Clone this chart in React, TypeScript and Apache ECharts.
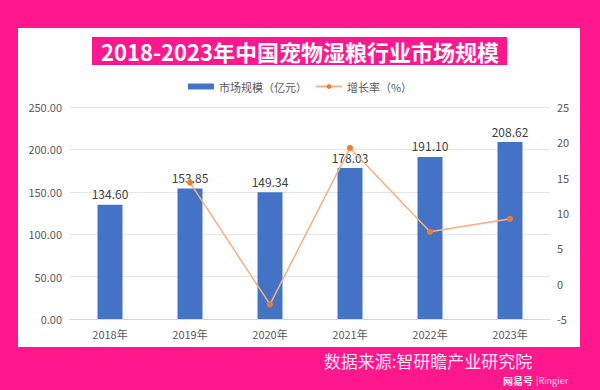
import React, { useEffect, useRef } from "react";
import * as echarts from "echarts";

const categories = ["2018年", "2019年", "2020年", "2021年", "2022年", "2023年"];
const marketSize = [134.6, 153.85, 149.34, 178.03, 191.1, 208.62];
const growthRate = [null, 14.3, -2.93, 19.21, 7.34, 9.17];
const leftTicks = { min: 0, max: 250, interval: 50 };
const rightTicks = { min: -5, max: 25, interval: 5 };

const PINK = "#FF178E";
const FONT = "'Noto Sans CJK SC', 'Noto Sans', sans-serif";

export default function App() {
  const ref = useRef<HTMLDivElement>(null);
  useEffect(() => {
    document.body.style.margin = "0";
    const chart = echarts.init(ref.current!, null, { renderer: "svg" });
    chart.setOption({
      animation: false,
      backgroundColor: PINK,
      textStyle: { fontFamily: FONT },
      graphic: [
        { type: "rect", shape: { x: 18, y: 28, width: 562, height: 319 }, style: { fill: "#fff" }, z: -10 },
        { type: "rect", shape: { x: 92, y: 37, width: 415, height: 28 }, style: { fill: PINK }, z: -5 },
        {
          type: "text", x: 300, y: 51,
          style: { text: "2018-2023年中国宠物湿粮行业市场规模", fill: "#fff", fontSize: 22, fontWeight: "bold", fontFamily: FONT, align: "center", verticalAlign: "middle" },
        },
        {
          type: "text", x: 428, y: 360,
          style: { text: "数据来源:智研瞻产业研究院", fill: "#fff", fontSize: 17, fontFamily: FONT, align: "center", verticalAlign: "middle", opacity: 0.9 },
        },
        {
          type: "text", x: 503, y: 380,
          style: { text: "网易号", fill: "#fff", fontSize: 10, fontWeight: "bold", fontFamily: FONT, align: "left", verticalAlign: "middle", opacity: 0.9 },
        },
        {
          type: "text", x: 536, y: 380,
          style: { text: "|Ringier", fill: "#fff", fontSize: 9, fontFamily: FONT, align: "left", verticalAlign: "middle", opacity: 0.85 },
        },
      ],
      legend: {
        top: 76,
        left: "center",
        itemGap: 8,
        itemWidth: 26,
        itemHeight: 6,
        textStyle: { color: "#595959", fontSize: 11, fontFamily: FONT },
        data: [
          { name: "市场规模（亿元）", icon: "rect" },
          { name: "增长率（%）" },
        ],
      },
      grid: { left: 70, right: 50, top: 107, bottom: 71 },
      xAxis: {
        type: "category",
        data: categories,
        axisLine: { lineStyle: { color: "#D9D9D9" } },
        axisTick: { show: false },
        axisLabel: { color: "#595959", fontSize: 11, margin: 9 },
      },
      yAxis: [
        {
          type: "value",
          ...leftTicks,
          axisLabel: { color: "#595959", fontSize: 11, formatter: (v: number) => v.toFixed(2), margin: 8 },
          splitLine: { lineStyle: { color: "#E6E6E6" } },
          axisLine: { show: false },
          axisTick: { show: false },
        },
        {
          type: "value",
          ...rightTicks,
          axisLabel: { color: "#595959", fontSize: 11, margin: 7 },
          splitLine: { show: false },
          axisLine: { show: false },
          axisTick: { show: false },
        },
      ],
      series: [
        {
          name: "市场规模（亿元）",
          type: "bar",
          data: marketSize,
          barWidth: 25,
          itemStyle: { color: "#4472C4" },
          label: {
            show: true, position: "top", color: "#404040", fontSize: 12, distance: 5,
            formatter: (p: any) => Number(p.value).toFixed(2),
          },
        },
        {
          name: "增长率（%）",
          type: "line",
          yAxisIndex: 1,
          data: growthRate,
          symbol: "circle",
          symbolSize: 6,
          connectNulls: false,
          lineStyle: { color: "#F4B183", width: 1.5 },
          itemStyle: { color: "#ED7D31" },
          z: 5,
        },
      ],
    });
    return () => chart.dispose();
  }, []);
  return <div ref={ref} style={{ width: 600, height: 390 }} />;
}
